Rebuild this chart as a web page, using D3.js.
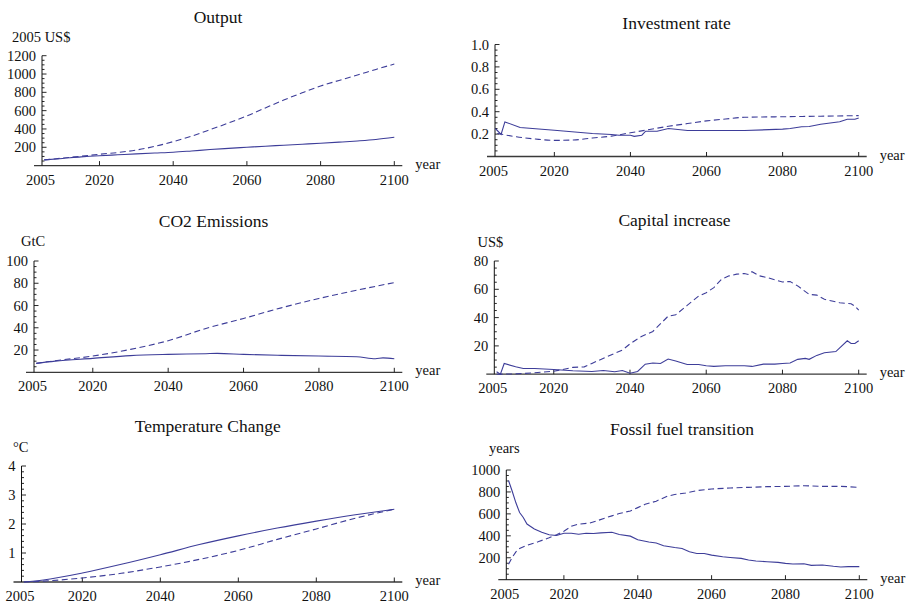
<!DOCTYPE html>
<html>
<head>
<meta charset="utf-8">
<script src="https://cdn.jsdelivr.net/npm/d3@7/dist/d3.min.js"></script>
<style>
  html, body { margin: 0; padding: 0; background: #fff; }
  svg { display: block; }
  text { font-family: "Liberation Serif", "Times New Roman", Times, serif; fill: #111; }
</style>
</head>
<body>
<svg id="chart" width="912" height="604"></svg>
<script>
// ---- data -------------------------------------------------------------
const xTickYears = [2005, 2020, 2040, 2060, 2080, 2100];

// Output (2005 US$)
const outputYears  = [2005, 2010, 2015, 2020, 2025, 2030, 2035, 2040, 2045, 2050, 2055, 2060, 2065, 2070, 2075, 2080, 2085, 2090, 2095, 2100];
const outputSolid  = [62, 78, 95, 108, 118, 128, 137, 146, 160, 175, 188, 200, 212, 222, 233, 244, 256, 269, 285, 309];
const outputDashed = [62, 82, 102, 124, 143, 170, 210, 262, 322, 392, 465, 542, 630, 716, 795, 869, 930, 989, 1050, 1109];
const outputTicks  = [200, 400, 600, 800, 1000, 1200];

// Investment rate
const invSolidYears  = [2004.5, 2006, 2007, 2011, 2020, 2030, 2035, 2037, 2040, 2041, 2043, 2044, 2047, 2050, 2055, 2060, 2070, 2080, 2082, 2085, 2087, 2090, 2095, 2097, 2099, 2100];
const invSolid       = [0.25, 0.197, 0.309, 0.259, 0.235, 0.206, 0.197, 0.19, 0.19, 0.18, 0.19, 0.226, 0.226, 0.25, 0.232, 0.232, 0.232, 0.244, 0.25, 0.265, 0.268, 0.288, 0.31, 0.332, 0.333, 0.344];
const invDashedYears = [2005, 2010, 2015, 2020, 2025, 2030, 2035, 2040, 2045, 2050, 2055, 2060, 2065, 2070, 2080, 2090, 2100];
const invDashed      = [0.206, 0.176, 0.156, 0.144, 0.147, 0.165, 0.182, 0.212, 0.241, 0.27, 0.294, 0.318, 0.335, 0.35, 0.355, 0.36, 0.365];
const invTicks       = [0.2, 0.4, 0.6, 0.8, 1.0];

// CO2 emissions (GtC)
const co2Years  = [2005, 2010, 2020, 2030, 2040, 2050, 2053, 2060, 2070, 2080, 2090, 2095, 2097, 2100];
const co2Solid  = [8, 10, 12.5, 15, 16.1, 16.7, 17, 16.1, 15.2, 14.6, 14, 12.2, 13, 12.2];
const co2DashedYears = [2005, 2010, 2020, 2030, 2040, 2050, 2060, 2070, 2080, 2090, 2100];
const co2Dashed = [8, 10.4, 14.6, 20.6, 28.4, 39.4, 48.4, 57.9, 66.3, 73.7, 80.6];
const co2Ticks  = [20, 40, 60, 80, 100];

// Capital increase (US$)
const capSolidYears = [2005, 2006, 2007, 2010, 2012, 2015, 2020, 2025, 2030, 2033, 2036, 2038, 2040, 2042, 2044, 2046, 2048, 2050, 2052, 2055, 2058, 2060, 2062, 2065, 2070, 2072, 2075, 2078, 2080, 2082, 2084, 2086, 2087, 2089, 2091, 2094, 2097, 2098, 2099, 2100];
const capSolid      = [1.7, 0, 7.6, 5.2, 4, 4, 3.3, 2.4, 1.9, 2.6, 1.7, 2.6, 0.7, 1.9, 7.1, 7.9, 7.6, 10.7, 9.3, 6.9, 6.9, 6, 5.5, 6, 6, 5.5, 7.1, 7.1, 7.6, 7.9, 10.5, 11.2, 10.5, 13.3, 15.2, 16, 23.6, 21.7, 21.7, 23.6];
const capDashedYears = [2005, 2010, 2015, 2020, 2025, 2028, 2030, 2035, 2038, 2040, 2043, 2046, 2050, 2052, 2055, 2058, 2060, 2062, 2064, 2066, 2068, 2070, 2071, 2072, 2074, 2076, 2078, 2080, 2082, 2084, 2087, 2089, 2091, 2093, 2095, 2098, 2099, 2100];
const capDashed      = [0, 0.2, 1, 2.1, 4.8, 5.2, 7.6, 13.6, 17.1, 21.4, 26.7, 30.2, 41, 42, 48.6, 55.2, 57.6, 61.2, 67.1, 69.5, 70.7, 71.2, 70.5, 72.4, 69.5, 68.3, 66.7, 65.2, 65.5, 62.4, 56.4, 55.9, 52.9, 51.7, 50.5, 49.8, 48.1, 45.2];
const capTicks       = [20, 40, 60, 80];

// Temperature change (°C)
const tempYears  = [2005, 2010, 2020, 2030, 2040, 2050, 2060, 2070, 2080, 2090, 2100];
const tempSolid  = [0, 0.07, 0.31, 0.61, 0.94, 1.29, 1.59, 1.86, 2.1, 2.32, 2.51];
const tempDashed = [0, 0.03, 0.14, 0.3, 0.52, 0.78, 1.09, 1.47, 1.83, 2.2, 2.51];
const tempTicks  = [1, 2, 3, 4];

// Fossil fuel transition (years)
const fossilSolidYears = [2005, 2006, 2007, 2008, 2009, 2010, 2012, 2014, 2016, 2018, 2020, 2022, 2024, 2026, 2028, 2030, 2033, 2035, 2038, 2040, 2043, 2045, 2047, 2050, 2052, 2054, 2056, 2058, 2060, 2063, 2065, 2068, 2070, 2072, 2075, 2078, 2080, 2082, 2085, 2087, 2090, 2093, 2095, 2097, 2100];
const fossilSolid      = [904, 806, 701, 612, 567, 507, 463, 433, 409, 403, 424, 424, 415, 424, 421, 427, 433, 412, 397, 364, 343, 334, 310, 293, 284, 254, 239, 239, 224, 209, 203, 194, 179, 170, 164, 158, 149, 143, 146, 131, 134, 122, 116, 119, 119];
const fossilDashedYears = [2005, 2006, 2007, 2008, 2010, 2013, 2016, 2018, 2020, 2022, 2024, 2027, 2029, 2031, 2033, 2035, 2038, 2040, 2042, 2045, 2048, 2050, 2053, 2056, 2060, 2065, 2070, 2075, 2080, 2085, 2090, 2095, 2100];
const fossilDashed      = [140, 203, 254, 284, 313, 346, 382, 409, 442, 487, 507, 516, 537, 561, 582, 603, 627, 657, 687, 716, 761, 776, 791, 812, 827, 836, 842, 848, 851, 857, 851, 851, 842];
const fossilTicks       = [200, 400, 600, 800, 1000];

// ---- panel layout ---------------------------------------------------
const panels = [
  { title: "Output", unit: "2005 US$", x0: 42, x1: 394.3, yTop: 55.7, yBase: 165.6, titleX: 218, titleY: 23, unitX: 12, unitY: 42,
    yMax: 1200, minor: 50, ticks: outputTicks, fmt: d3.format("d"),
    series: [{ years: outputYears, values: outputSolid, dashed: false, smooth: true },
             { years: outputYears, values: outputDashed, dashed: true, smooth: true }] },
  { title: "Investment rate", unit: null, x0: 495, x1: 858.7, yTop: 44.5, yBase: 156.5, titleX: 676.5, titleY: 29,
    yMax: 1.0, minor: 0.05, ticks: invTicks, fmt: d3.format(".1f"),
    series: [{ years: invSolidYears, values: invSolid, dashed: false, smooth: false },
             { years: invDashedYears, values: invDashed, dashed: true, smooth: true }] },
  { title: "CO2 Emissions", unit: "GtC", x0: 34, x1: 394.3, yTop: 261, yBase: 372.3, titleX: 213.5, titleY: 227, unitX: 21, unitY: 245.5,
    yMax: 100, minor: 5, ticks: co2Ticks, fmt: d3.format("d"),
    series: [{ years: co2Years, values: co2Solid, dashed: false, smooth: true },
             { years: co2DashedYears, values: co2Dashed, dashed: true, smooth: true }] },
  { title: "Capital increase", unit: "US$", x0: 494.3, x1: 858.7, yTop: 261, yBase: 374.2, titleX: 674.5, titleY: 226, unitX: 477.5, unitY: 246.5,
    yMax: 80, minor: 5, ticks: capTicks, fmt: d3.format("d"),
    series: [{ years: capSolidYears, values: capSolid, dashed: false, smooth: false },
             { years: capDashedYears, values: capDashed, dashed: true, smooth: false }] },
  { title: "Temperature Change", unit: "°C", x0: 21.5, x1: 394.3, yTop: 466, yBase: 582, titleX: 207.7, titleY: 431.5, unitX: 13, unitY: 451.5,
    yMax: 4, minor: 0.2, ticks: tempTicks, fmt: d3.format("d"),
    series: [{ years: tempYears, values: tempSolid, dashed: false, smooth: true },
             { years: tempYears, values: tempDashed, dashed: true, smooth: true }] },
  { title: "Fossil fuel transition", unit: "years", x0: 506.3, x1: 859.3, yTop: 470, yBase: 579.7, titleX: 682, titleY: 435, unitX: 489, unitY: 452.5,
    yMax: 1000, minor: 50, ticks: fossilTicks, fmt: d3.format("d"),
    series: [{ years: fossilSolidYears, values: fossilSolid, dashed: false, smooth: false },
             { years: fossilDashedYears, values: fossilDashed, dashed: true, smooth: false }] }
];

const lineColor = "#3d3d99";
const svg = d3.select("#chart");

panels.forEach(p => {
  const g = svg.append("g");
  const x = d3.scaleLinear().domain([2004.4, 2100]).range([p.x0, p.x1]);
  const y = d3.scaleLinear().domain([0, p.yMax]).range([p.yBase, p.yTop]);

  // title and unit label
  g.append("text").attr("x", p.titleX).attr("y", p.titleY)
    .attr("text-anchor", "middle").style("font-size", "17.5px").text(p.title);
  if (p.unit) {
    g.append("text").attr("x", p.unitX).attr("y", p.unitY)
      .style("font-size", "14.5px").text(p.unit);
  }

  // x axis: line runs a little past both ends
  g.append("line")
    .attr("x1", p.x0 - 8).attr("x2", p.x1 + 8)
    .attr("y1", p.yBase).attr("y2", p.yBase)
    .attr("stroke", "#3a3a3a").attr("stroke-width", 1.3);
  xTickYears.slice(1).forEach(yr => {
    g.append("line").attr("x1", x(yr)).attr("x2", x(yr))
      .attr("y1", p.yBase).attr("y2", p.yBase - 4.5)
      .attr("stroke", "#222").attr("stroke-width", 1);
  });
  xTickYears.forEach((yr, i) => {
    g.append("text")
      .attr("x", i === 0 ? p.x0 - 1.5 : x(yr))
      .attr("y", p.yBase + 19)
      .attr("text-anchor", "middle").style("font-size", "14.5px")
      .text(yr);
  });
  g.append("text").attr("x", p.x1 + 21).attr("y", p.yBase + 3)
    .style("font-size", "14.5px").text("year");

  // y axis
  g.append("line")
    .attr("x1", p.x0).attr("x2", p.x0)
    .attr("y1", p.yBase).attr("y2", y(p.yMax))
    .attr("stroke", "#111").attr("stroke-width", 1);
  const nMinor = Math.round(p.yMax / p.minor);
  for (let i = 1; i <= nMinor; i++) {
    const v = i * p.minor;
    const isMajor = p.ticks.some(t => Math.abs(t - v) < 1e-9);
    g.append("line")
      .attr("x1", p.x0).attr("x2", p.x0 + (isMajor ? 4.5 : 2.5))
      .attr("y1", y(v)).attr("y2", y(v))
      .attr("stroke", "#111").attr("stroke-width", 0.9);
  }
  p.ticks.forEach(t => {
    g.append("text")
      .attr("x", p.x0 - 6).attr("y", y(t)).attr("dy", "0.35em")
      .attr("text-anchor", "end").style("font-size", "14.5px")
      .text(p.fmt(t));
  });

  // series
  p.series.forEach(s => {
    const pts = s.years.map((yr, i) => [yr, s.values[i]]);
    const line = d3.line()
      .x(d => x(d[0])).y(d => y(d[1]))
      .curve(s.smooth ? d3.curveMonotoneX : d3.curveLinear);
    g.append("path").datum(pts)
      .attr("d", line)
      .attr("fill", "none")
      .attr("stroke", lineColor)
      .attr("stroke-width", 1.1)
      .attr("stroke-dasharray", s.dashed ? "6,3.5" : null);
  });
});
</script>
</body>
</html>
